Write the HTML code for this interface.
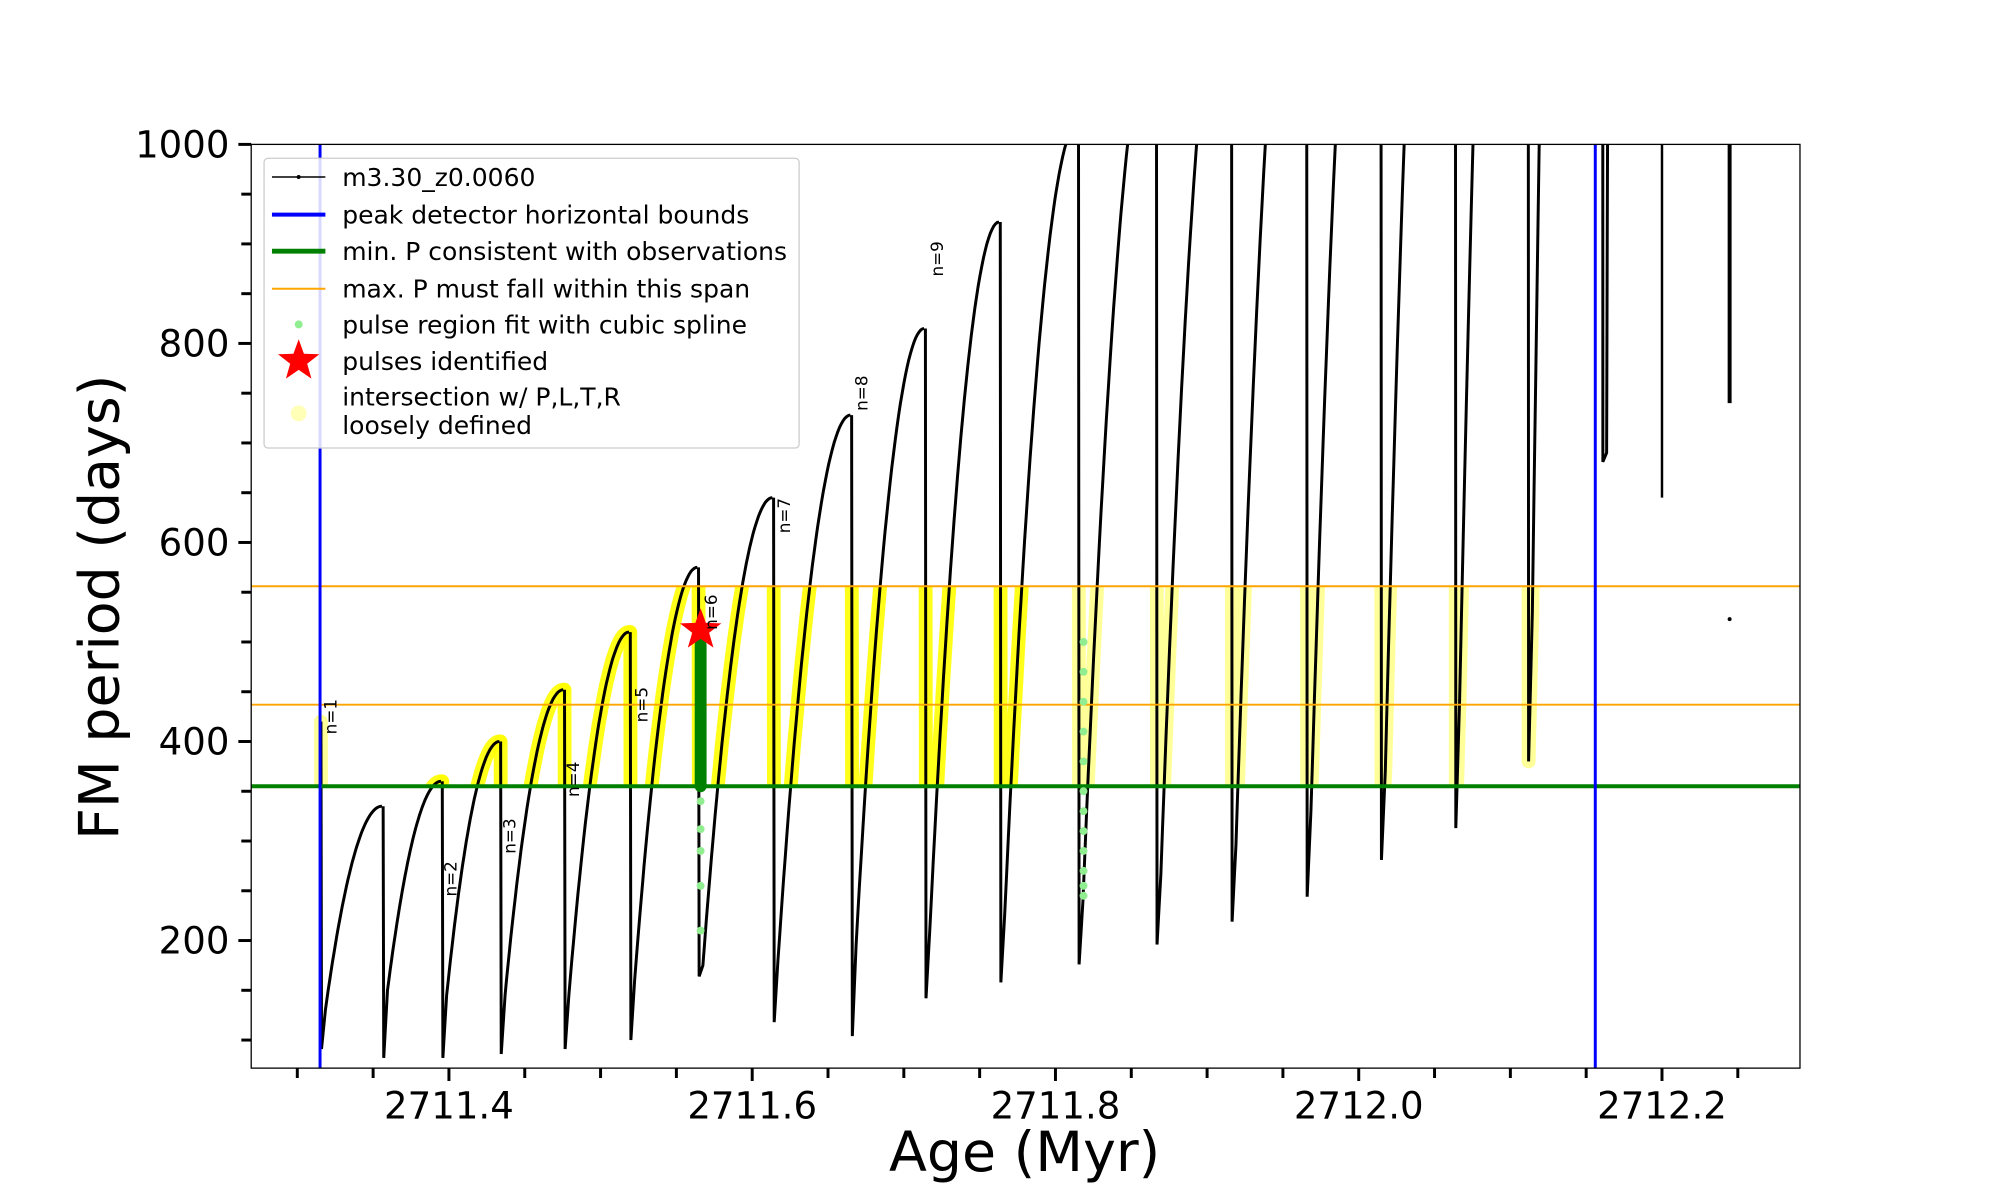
<!DOCTYPE html>
<html><head><meta charset="utf-8"><style>
html,body{margin:0;padding:0;background:#fff;}
svg{display:block;font-family:"DejaVu Sans","Liberation Sans",sans-serif;}
</style></head><body>
<svg id="chart" xmlns="http://www.w3.org/2000/svg" width="2000" height="1200" viewBox="0 0 2000 1200">
<defs><clipPath id="plotclip"><rect x="254" y="146" width="1566" height="934"/></clipPath>
<clipPath id="bandclip"><rect id="bandrect" x="254" y="0" width="1566" height="0"/></clipPath></defs>
<rect x="0" y="0" width="2000" height="1200" fill="#fff"/>
<g transform="scale(0.989)">
<g id="yellow" clip-path="url(#bandclip)"></g>
<g id="lines" clip-path="url(#plotclip)"></g>
<g id="axes"></g>
<rect x="254" y="146" width="1566" height="934" fill="none" stroke="#000" stroke-width="1.3"/>
<g>
<rect x="267" y="160" width="541" height="293" rx="4" fill="#fff" fill-opacity="0.85" stroke="#ccc" stroke-width="1.3"/>
<g font-size="25.3" fill="#000">
<g><line x1="275" y1="179" x2="329" y2="179" stroke="#000" stroke-width="1.5"/><circle cx="302" cy="179" r="2"/><text x="346" y="188">m3.30_z0.0060</text></g>
<g><line x1="275" y1="217" x2="329" y2="217" stroke="#0000ff" stroke-width="4"/><text x="346" y="226">peak detector horizontal bounds</text></g>
<g><line x1="275" y1="254" x2="329" y2="254" stroke="#008000" stroke-width="5"/><text x="346" y="263">min. P consistent with observations</text></g>
<g><line x1="275" y1="292" x2="329" y2="292" stroke="#ffa500" stroke-width="2"/><text x="346" y="301">max. P must fall within this span</text></g>
<g><circle cx="302" cy="328" r="4" fill="#90ee90"/><text x="346" y="337">pulse region fit with cubic spline</text></g>
<g><polygon id="legstar" fill="#ff0000"/><text x="346" y="374">pulses identified</text></g>
<g><circle cx="302" cy="418" r="8" fill="#ffff99" fill-opacity="0.7"/><text x="346" y="410">intersection w/ P,L,T,R</text><text x="346" y="439">loosely defined</text></g>
</g></g>
<text x="1036" y="1184" font-size="56" text-anchor="middle">Age (Myr)</text>
<text transform="translate(120,614) rotate(-90)" font-size="56" text-anchor="middle">FM period (days)</text>
</g>
</svg>
<script>
const spikeAges=[2711.316,2711.357,2711.396,2711.4345,2711.4766,2711.520,2711.565,2711.6145,2711.666,2711.7146,2711.764,2711.8156,2711.867,2711.9165,2711.966,2712.015,2712.064,2712.112,2712.161];
const dipValues=[91,82,82,86,91,100,164,118,104,142,158,176,196,219,244,281,313,380,681];
const troughValues=[130,150,145,145,145,160,175,180,195,210,225,240,267,296,330,370,440,530,690];
const peakValues=[335,360,400,452,510,575,645,728,815,922,1020,1130,1226,1350,1480,1700,2000,3000,5000];
const tailAges=[2712.200,2712.2446];
const tailMins=[645,740];
const strayAge=[2712.2446];const strayVal=[523];
const minP=[355];const maxPSpan=[437,556];const boundAges=[2711.315,2712.156];
const pulseAge=[2711.566];const pulseVal=[512];
const greenAge=[2711.566];const greenLo=[355];const greenHi=[497];
const splineDotsA=[358,340,312,290,255,210];
const splineDotsB=[500,470,440,410,380,350,330,310,290,270,255,245];
const splineAgeB=[2711.8185];
const labelAges=[2711.3218,2711.401,2711.440,2711.482,2711.527,2711.573,2711.621,2711.672,2711.722];
const labelVals=[425,262,305,362,437,530,627,750,885];
const labelNames=["n=1","n=2","n=3","n=4","n=5","n=6","n=7","n=8","n=9"];
const xTicksMajor=[2711.4,2711.6,2711.8,2712.0,2712.2];
const xTickLabels=["2711.4","2711.6","2711.8","2712.0","2712.2"];
const yTicksMajor=[200,400,600,800,1000];

const NS="http://www.w3.org/2000/svg";
const L=254,R=1820,T=146,B=1080,X0=2711.2696,X1=2712.291,Y0=71.8,Y1=1000;
function x(a){return L+(a-X0)/(X1-X0)*(R-L);}
function y(v){return B-(v-Y0)/(Y1-Y0)*(B-T);}
function mk(tag,attrs,parent){const e=document.createElementNS(NS,tag);for(const k in attrs)e.setAttribute(k,attrs[k]);parent.appendChild(e);return e;}
const lines=document.getElementById('lines'),yel=document.getElementById('yellow'),axes=document.getElementById('axes');
const br=document.getElementById('bandrect');br.setAttribute('y',y(maxPSpan[1]));br.setAttribute('height',y(minP[0])-y(maxPSpan[1]));

function cyclePts(i){
  const t=spikeAges[i];const end=i+1<spikeAges.length?spikeAges[i+1]:t+0.02;
  const prev=i>0?peakValues[i-1]:420;
  const pts=[[t-0.0004,prev],[t,dipValues[i]],[t+0.0025,troughValues[i]]];
  const s=t+0.0025,e=end-0.0012;
  for(let k=1;k<=40;k++){const u=k/40;pts.push([s+(e-s)*u,troughValues[i]+(peakValues[i]-troughValues[i])*(1-(1-u)*(1-u))]);}
  return pts;
}
const pathD=p=>p.map((q,j)=>(j?'L':'M')+x(q[0]).toFixed(1)+','+y(q[1]).toFixed(1)).join('');
for(let i=0;i<spikeAges.length;i++){
  const p=cyclePts(i);
  const yp=mk('path',{d:pathD(p),fill:'none',stroke:'#ffff00','stroke-width':14,'stroke-linejoin':'round','stroke-linecap':'round','stroke-opacity':(i===0||i>10)?0.4:0.9},yel);
  
  
}
for(let i=0;i<spikeAges.length;i++){
  const lp=mk('path',{d:pathD(cyclePts(i)),fill:'none',stroke:'#000','stroke-width':3},lines);
  
  
}
for(let i=0;i<tailAges.length;i++){
  const tl=mk('line',{x1:x(tailAges[i]),x2:x(tailAges[i]),y1:y(1000),y2:y(tailMins[i]),stroke:'#000','stroke-width':i?4:2.5},lines);
  
  
}
const sd=mk('circle',{cx:x(strayAge[0]),cy:y(strayVal[0]),r:2,fill:'#000'},lines);


const gl=mk('line',{x1:L,x2:R,y1:y(minP[0]),y2:y(minP[0]),stroke:'#008000','stroke-width':4},lines);


maxPSpan.forEach((v,i)=>{const o=mk('line',{x1:L,x2:R,y1:y(v),y2:y(v),stroke:'#ffa500','stroke-width':2},lines);

});
boundAges.forEach((a,i)=>{const b=mk('line',{x1:x(a),x2:x(a),y1:T,y2:B,stroke:'#0000ff','stroke-width':3},lines);

});
splineDotsA.forEach(v=>{const c=mk('circle',{cx:x(greenAge[0]),cy:y(v),r:4,fill:'#90ee90'},lines);

});
splineDotsB.forEach(v=>{const c=mk('circle',{cx:x(splineAgeB[0]),cy:y(v),r:4,fill:'#90ee90'},lines);

});
const gs=mk('line',{x1:x(greenAge[0]),x2:x(greenAge[0]),y1:y(greenLo[0]),y2:y(greenHi[0]),stroke:'#008000','stroke-width':12,'stroke-linecap':'round'},lines);


function starPts(cx,cy,ro,ri){let s=[];for(let k=0;k<10;k++){const r=k%2?ri:ro,a=-Math.PI/2+k*Math.PI/5;s.push((cx+r*Math.cos(a)).toFixed(1)+','+(cy+r*Math.sin(a)).toFixed(1));}return s.join(' ');}
const st=mk('polygon',{points:starPts(x(pulseAge[0]),y(pulseVal[0]),22,9),fill:'#ff0000'},lines);


document.getElementById('legstar').setAttribute('points',starPts(302,365,22,9));
labelAges.forEach((a,i)=>{const t=mk('text',{transform:`translate(${x(a)+6},${y(labelVals[i])}) rotate(-90)`,'font-size':17,'text-anchor':'middle'},lines);t.textContent=labelNames[i];

});
for(let k=0;k<=19;k++){const a=2711.3+k*0.05;const major=xTicksMajor.some(m=>Math.abs(m-a)<1e-6);
 const tk=mk('line',{x1:x(a),x2:x(a),y1:B,y2:B+(major?13:10),stroke:'#000','stroke-width':3},axes);
 
 }
xTicksMajor.forEach((a,i)=>{const t=mk('text',{x:x(a),y:1131,'font-size':37.5,'text-anchor':'middle'},axes);t.textContent=xTickLabels[i];

});
for(let v=100;v<=1000;v+=50){const major=yTicksMajor.includes(v);
 const tk=mk('line',{x1:L-(major?13:10),x2:L,y1:y(v),y2:y(v),stroke:'#000','stroke-width':3},axes);
 
 }
yTicksMajor.forEach(v=>{const t=mk('text',{x:232,y:y(v)+13,'font-size':37.5,'text-anchor':'end'},axes);t.textContent=String(v);

});
</script>
</body></html>
